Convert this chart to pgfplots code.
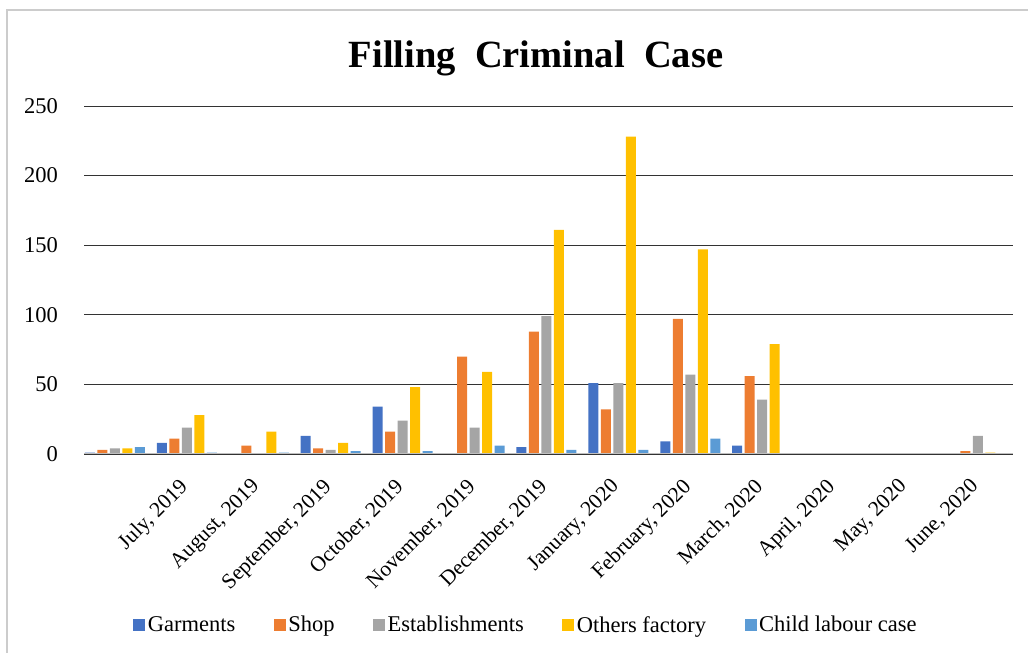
\documentclass[border=0pt]{standalone}
\usepackage{fontspec}
\setmainfont{Liberation Serif}
\usepackage{pgfplots}
\pgfplotsset{compat=1.18}

\definecolor{cGar}{HTML}{4472C4}
\definecolor{cShop}{HTML}{ED7D31}
\definecolor{cEst}{HTML}{A5A5A5}
\definecolor{cOth}{HTML}{FFC000}
\definecolor{cChild}{HTML}{5B9BD5}

% month index: 0 = unlabelled first row, 1..12 = July 2019 .. June 2020
\pgfplotstableread{
idx gar shop est oth child
0   1   3    4   4   5
1   8   11   19  28  1
2   0   6    0   16  1
3   13  4    3   8   2
4   34  16   24  48  2
5   0   70   19  59  6
6   5   88   99  161 3
7   51  32   51  228 3
8   9   97   57  147 11
9   6   56   39  79  0
10  0   0    0   0   0
11  0   0    0   0   0
12  0   2    13  1   0
}\cases

\begin{document}
\begin{tikzpicture}
\draw[black!20, line width=1.5bp] (7bp,0bp) -- (7bp,643bp) -- (1028bp,643bp);
\node[anchor=base, font=\fontsize{38.5bp}{44bp}\selectfont\bfseries]
  at (536bp,585bp) {Filling\hspace{0.5em}Criminal\hspace{0.5em}Case};
\begin{axis}[
    at={(84bp,199bp)}, anchor=south west,
    scale only axis,
    width=929bp, height=348bp,
    xmin=-0.431, xmax=12.487,
    ymin=0, ymax=250,
    ybar=2.5bp, bar width=10bp,
    axis line style={draw=none},
    major tick length=0pt,
    ytick={0,50,...,250},
    ymajorgrids,
    grid style={black!80, line width=0.9bp},
    /pgf/number format/assume math mode=true,
    yticklabel style={font=\fontsize{22.5bp}{27bp}\selectfont, anchor=east, inner sep=0pt, xshift=-26bp},
    xtick={1,...,12},
    xticklabels={{July, 2019},{August, 2019},{September, 2019},{October, 2019},
      {November, 2019},{December, 2019},{January, 2020},{February, 2020},
      {March, 2020},{April, 2020},{May, 2020},{June, 2020}},
    xticklabel style={font=\fontsize{21.5bp}{26bp}\selectfont, xshift=-9bp, yshift=-23bp,
      rotate=45, anchor=north east, inner sep=0pt},
    legend columns=5,
    legend style={at={(0.476,-0.491)}, anchor=center, draw=none,
      font=\fontsize{22.5bp}{27bp}\selectfont,
      nodes={inner xsep=2.5bp, inner ysep=1bp},
      /tikz/every even column/.append style={column sep=36bp}},
    legend image code/.code={\fill[#1] (0bp,-6bp) rectangle (12bp,6bp);},
]
\addplot[fill=cGar, draw=none] table[x=idx, y=gar] {\cases};
\addplot[fill=cShop, draw=none] table[x=idx, y=shop] {\cases};
\addplot[fill=cEst, draw=none] table[x=idx, y=est] {\cases};
\addplot[fill=cOth, draw=none] table[x=idx, y=oth] {\cases};
\addplot[fill=cChild, draw=none] table[x=idx, y=child] {\cases};
\draw[black!25, line width=2bp] (axis cs:-0.431,0) -- (axis cs:12.487,0);
\legend{Garments, Shop, Establishments, Others factory, Child labour case}
\end{axis}
\pgfresetboundingbox
\path[use as bounding box] (0bp,0bp) rectangle (1028bp,653bp);
\end{tikzpicture}
\end{document}
